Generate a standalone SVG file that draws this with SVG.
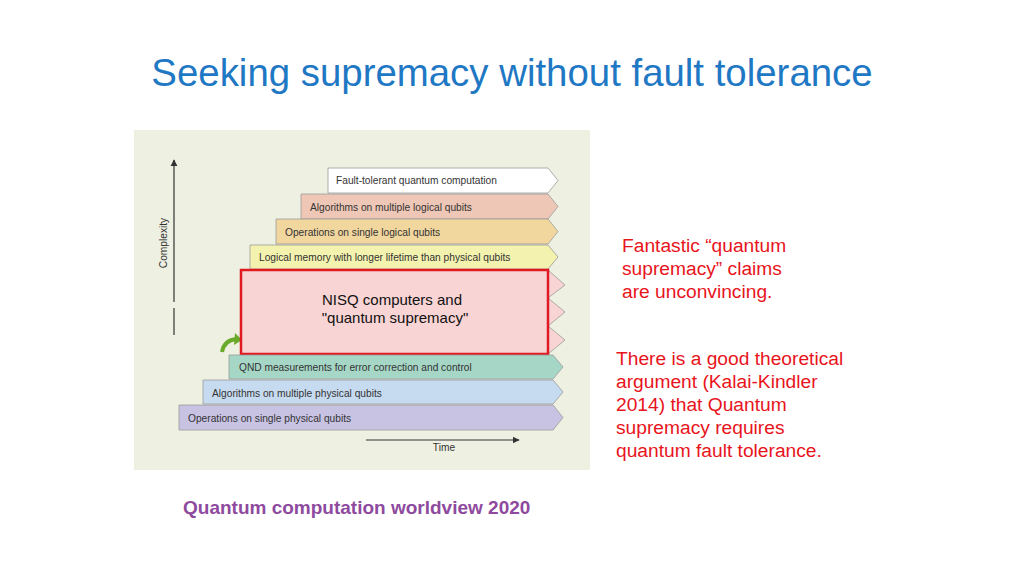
<svg xmlns="http://www.w3.org/2000/svg" width="1024" height="576" viewBox="0 0 1024 576">
<style>
text{font-family:"Liberation Sans",Arial,sans-serif}
.bl{font-size:10.2px;fill:#333}
.bar{stroke:#9a9a9a;stroke-width:0.8}
.red{font-size:19.2px;fill:#e8141c}
</style>
<defs>
<marker id="ah" viewBox="0 0 10 10" refX="9" refY="5" markerWidth="6" markerHeight="6" orient="auto"><path d="M0,0L10,5L0,10z" fill="#333"/></marker>
</defs>
<rect width="1024" height="576" fill="#fff"/>
<text x="512" y="86" text-anchor="middle" font-size="38.4" fill="#1f78c4">Seeking supremacy without fault tolerance</text>
<rect x="134" y="130" width="456" height="340" fill="#eef0e2"/>
<g id="connectors">
<line x1="174" y1="302" x2="174" y2="160" stroke="#333" stroke-width="1.2" marker-end="url(#ah)"/>
<line x1="174" y1="308" x2="174" y2="335" stroke="#333" stroke-width="1.2"/>
<line x1="366" y1="440" x2="519" y2="440" stroke="#333" stroke-width="1.2" marker-end="url(#ah)"/>
<path d="M222,352 Q224,340 237,339" fill="none" stroke="#6aaa2a" stroke-width="4"/>
<path d="M235,333 L242,340 L234,345z" fill="#6aaa2a"/>
</g>
<text transform="translate(167,243) rotate(-90)" text-anchor="middle" class="bl">Complexity</text>
<text x="444" y="451" text-anchor="middle" class="bl">Time</text>
<g id="n1"><path class="bar" d="M328,168H548L558,180.5L548,193H328z" fill="#fff"/><text x="336" y="184" class="bl">Fault-tolerant quantum computation</text></g>
<g id="n2"><path class="bar" d="M301,194H548L558,206.5L548,219H301z" fill="#efc7b6"/><text x="310" y="211" class="bl">Algorithms on multiple logical qubits</text></g>
<g id="n3"><path class="bar" d="M276,219H548L558,231.5L548,244H276z" fill="#f1d69e"/><text x="285" y="236" class="bl">Operations on single logical qubits</text></g>
<g id="n4"><path class="bar" d="M250,245H548L558,257L548,269H250z" fill="#f3f2ae"/><text x="259" y="261" class="bl">Logical memory with longer lifetime than physical qubits</text></g>
<g id="n5"><path d="M548,270L565,285L548,298L565,312L548,326L565,340L548,354z" fill="#f8d4d4" stroke="#9a9a9a" stroke-width="0.8"/><rect x="241" y="270" width="307" height="84" fill="#f8d4d4" stroke="#e01a20" stroke-width="2.5"/><text x="392" y="305" text-anchor="middle" font-size="15" fill="#111">NISQ computers and</text><text x="395" y="323" text-anchor="middle" font-size="15" fill="#111">"quantum supremacy"</text></g>
<g id="n6"><path class="bar" d="M229,355H553L563,367L553,379H229z" fill="#a6d7c6"/><text x="239" y="371" class="bl">QND measurements for error correction and control</text></g>
<g id="n7"><path class="bar" d="M203,380H553L563,392L553,404H203z" fill="#c7dbf0"/><text x="212" y="397" class="bl">Algorithms on multiple physical qubits</text></g>
<g id="n8"><path class="bar" d="M179,405H553L563,417.5L553,430H179z" fill="#c8c3e3"/><text x="188" y="422" class="bl">Operations on single physical qubits</text></g>
<text class="red"><tspan x="622" y="252">Fantastic “quantum</tspan><tspan x="622" y="275">supremacy” claims</tspan><tspan x="622" y="298">are unconvincing.</tspan></text>
<text class="red"><tspan x="616" y="365">There is a good theoretical</tspan><tspan x="616" y="388">argument (Kalai-Kindler</tspan><tspan x="616" y="411">2014) that Quantum</tspan><tspan x="616" y="434">supremacy requires</tspan><tspan x="616" y="457">quantum fault tolerance.</tspan></text>
<text x="183" y="514" font-size="19" font-weight="bold" fill="#8e4a9e">Quantum computation worldview 2020</text>
</svg>
